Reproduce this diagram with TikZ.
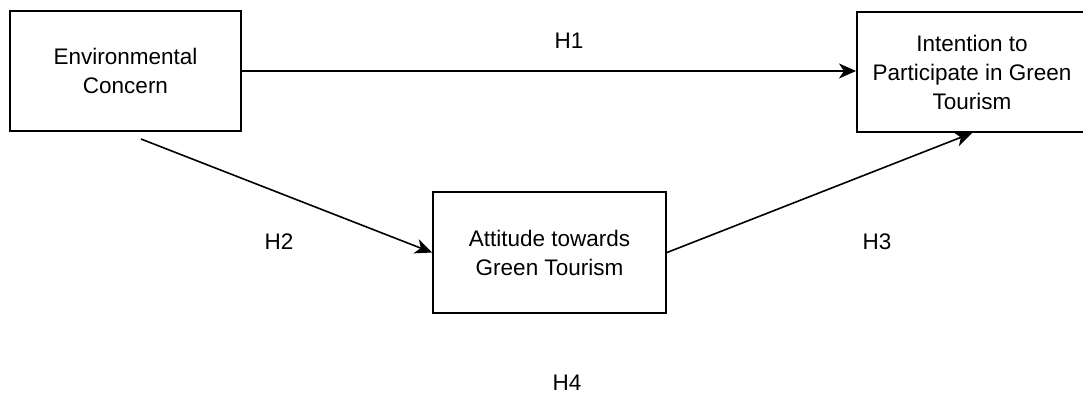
\documentclass[tikz,border=0pt]{standalone}
\usepackage{fontspec}
\setmainfont{Liberation Sans}
\usetikzlibrary{arrows.meta}
\tikzset{
  box/.style={draw=black, line width=2pt, minimum width=231pt, minimum height=120pt,
    align=center, inner sep=0pt, font=\fontsize{22.5}{29}\selectfont},
  link/.style={draw=black, line width=1.6pt, -{Stealth[length=17pt,width=15pt,inset=5pt]}},
  hyp/.style={font=\fontsize{22.5}{29}\selectfont},
}
\begin{document}
\begin{tikzpicture}[x=1pt,y=-1pt]
  \useasboundingbox (0,0) rectangle (1083,394);
  \begin{scope}
  \clip (0,0) rectangle (1083,394);
  \node[box] (env) at (125.5,71) {Environmental\\Concern};
  \node[box,minimum width=230pt] (int) at (972,72) {Intention to\\Participate in Green\\Tourism};
  \node[box,minimum width=233pt,minimum height=121pt] (att) at (549.5,252.5) {Attitude towards\\Green Tourism};
  \end{scope}
  \coordinate (envfoot) at (141,139);

  \draw[link] (env.east) -- (env.east -| int.west);
  \draw[link] (envfoot) -- (att.west);
  \draw[link] (att.east) -- (int.south);

  \node[hyp] (h1) at (569,41) {H1};
  \node[hyp] (h2) at (279,242) {H2};
  \node[hyp] (h3) at (877,242) {H3};
  \node[hyp] (h4) at (567,383) {H4};
\end{tikzpicture}
\end{document}
